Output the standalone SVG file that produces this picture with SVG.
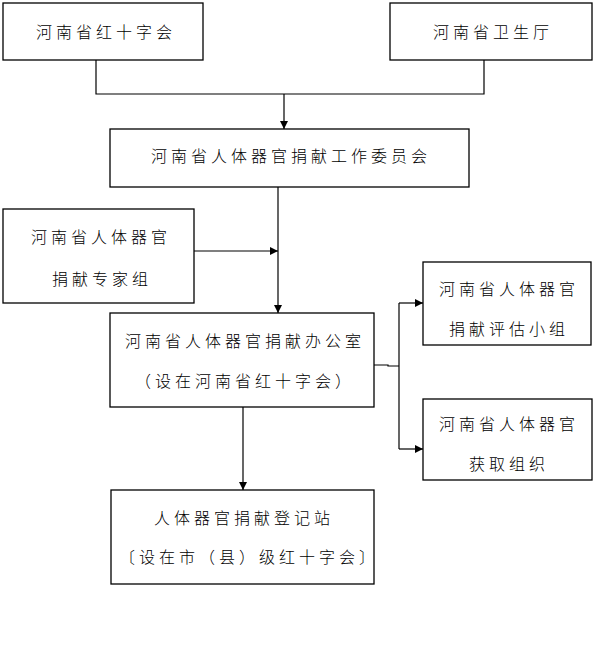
<svg xmlns="http://www.w3.org/2000/svg" width="603" height="668" viewBox="0 0 603 668">
<style>
.n{fill:#fff;stroke:#000;stroke-width:1.3}
text{font-family:"Noto Sans CJK SC","Noto Sans CJK JP",sans-serif;font-size:16px;letter-spacing:4px;text-anchor:middle;fill:#000;font-weight:300}
.c{fill:none;stroke:#000;stroke-width:1.2}
</style>
<defs>
<marker id="a" markerWidth="10" markerHeight="10" refX="9" refY="5" orient="auto" markerUnits="userSpaceOnUse">
<path d="M1,1 L9,5 L1,9 Z" fill="#000"/>
</marker>
</defs>
<rect width="603" height="668" fill="#fff"/>
<g id="connectors">
<polyline class="c" points="96,60 96,94 484,94 484,60"/>
<line class="c" x1="284" y1="94" x2="284" y2="129" marker-end="url(#a)"/>
<line class="c" x1="278" y1="187" x2="278" y2="313" marker-end="url(#a)"/>
<line class="c" x1="194" y1="251" x2="278" y2="251" marker-end="url(#a)"/>
<polyline class="c" points="374,365 388,365 388,366 399,366"/>
<line class="c" x1="399" y1="303" x2="399" y2="449"/>
<line class="c" x1="399" y1="303" x2="423" y2="303" marker-end="url(#a)"/>
<line class="c" x1="399" y1="449" x2="423" y2="449" marker-end="url(#a)"/>
<line class="c" x1="243" y1="407" x2="243" y2="490" marker-end="url(#a)"/>
</g>
<g id="n1"><rect class="n" x="3" y="3" width="200" height="57"/><text x="106" y="38">河南省红十字会</text></g>
<g id="n2"><rect class="n" x="390" y="3" width="202" height="57"/><text x="493" y="38">河南省卫生厅</text></g>
<g id="n3"><rect class="n" x="110" y="129" width="359" height="58"/><text x="291" y="162">河南省人体器官捐献工作委员会</text></g>
<g id="n4"><rect class="n" x="3" y="209" width="191" height="94"/><text x="101" y="243">河南省人体器官</text><text x="102" y="285">捐献专家组</text></g>
<g id="n5"><rect class="n" x="110" y="313" width="264" height="94"/><text x="245" y="347">河南省人体器官捐献办公室</text><text x="245" y="387">（设在河南省红十字会）</text></g>
<g id="n6"><rect class="n" x="423" y="262" width="168" height="83"/><text x="509" y="295">河南省人体器官</text><text x="509" y="335">捐献评估小组</text></g>
<g id="n7"><rect class="n" x="423" y="399" width="169" height="81"/><text x="509" y="430">河南省人体器官</text><text x="509" y="470">获取组织</text></g>
<g id="n8"><rect class="n" x="111" y="490" width="263" height="94"/><text x="244" y="524">人体器官捐献登记站</text><text x="249" y="563">〔设在市（县）级红十字会〕</text></g>
</svg>
